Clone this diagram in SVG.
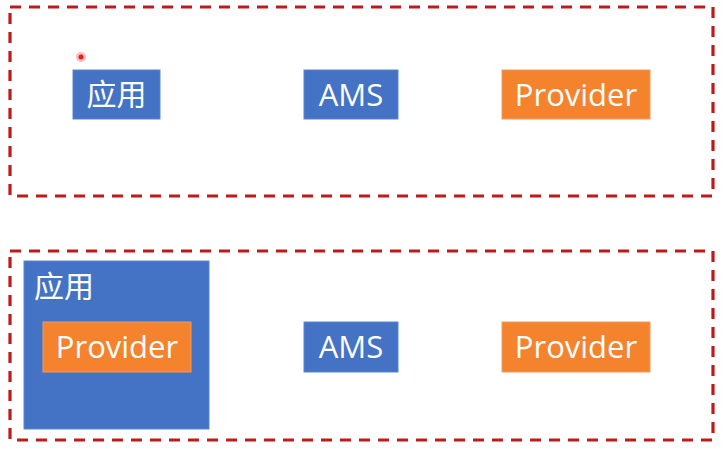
<svg xmlns="http://www.w3.org/2000/svg" width="724" height="450" viewBox="0 0 724 450">
<style>
.frame{fill:none;stroke:#BE1A1A;stroke-width:3.2;stroke-dasharray:11 8}
.blue{fill:#4472C4;stroke:#5B86D0;stroke-width:1}
.orange{fill:#F5832E;stroke:#F29A5A;stroke-width:1}
.t{fill:#fff;font-family:"Open Sans","Noto Sans","Noto Sans CJK SC",sans-serif;font-size:31px;text-anchor:middle}
.cjk{fill:#fff;font-family:"Noto Sans CJK SC","Noto Sans",sans-serif;font-size:30px}
</style>
<rect width="724" height="450" fill="#fff"/>
<g id="frame-top"><rect class="frame" x="10" y="7" width="703" height="189"/></g>
<g id="frame-bottom"><rect class="frame" x="10" y="251" width="703" height="189"/></g>
<g id="cursor"><circle cx="81" cy="57" r="5" fill="#F04040" opacity="0.35"/><circle cx="81" cy="57" r="2.5" fill="#E02020"/></g>
<g id="app-top"><rect class="blue" x="73" y="70" width="87" height="49"/><text class="cjk" x="116.5" y="105" text-anchor="middle">应用</text></g>
<g id="ams-top"><rect class="blue" x="304" y="70" width="94" height="49"/><text class="t" x="351" y="105.5">AMS</text></g>
<g id="provider-top"><rect class="orange" x="502" y="70" width="148" height="49"/><text class="t" x="576" y="105.5">Provider</text></g>
<g id="app-bottom"><rect class="blue" x="24" y="261" width="185" height="168"/><text class="cjk" x="34" y="297">应用</text>
<g id="provider-inner"><rect class="orange" x="43" y="322" width="148" height="50"/><text class="t" x="117" y="358">Provider</text></g></g>
<g id="ams-bottom"><rect class="blue" x="304" y="322" width="94" height="50"/><text class="t" x="351" y="358">AMS</text></g>
<g id="provider-bottom"><rect class="orange" x="502" y="322" width="148" height="50"/><text class="t" x="576" y="358">Provider</text></g>
<g id="connectors"></g>
</svg>
